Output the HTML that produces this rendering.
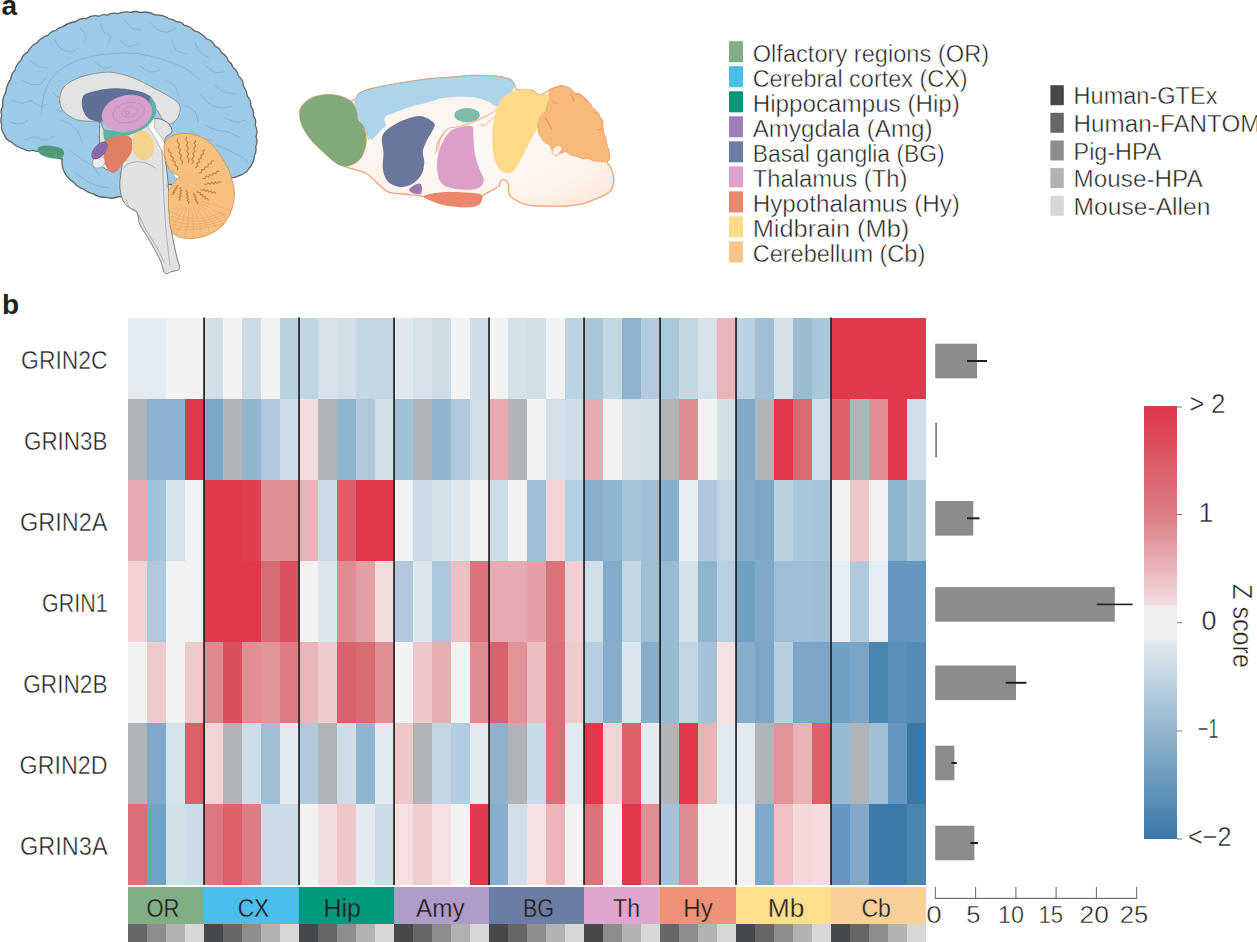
<!DOCTYPE html><html><head><meta charset="utf-8"><style>html,body{margin:0;padding:0;background:#fff;width:1257px;height:942px;overflow:hidden}svg{display:block}text{font-family:"Liberation Sans",sans-serif;fill:#231f20;stroke:#fff;stroke-width:0.45px}</style></head><body>
<svg width="1257" height="942" viewBox="0 0 1257 942">
<rect width="1257" height="942" fill="#fff"/>
<g shape-rendering="crispEdges">
<rect x="128" y="318" width="19" height="81" fill="#e3eaf0"/>
<rect x="147" y="318" width="19" height="81" fill="#e3eaf0"/>
<rect x="166" y="318" width="19" height="81" fill="#f2f2f2"/>
<rect x="185" y="318" width="19" height="81" fill="#f2f2f2"/>
<rect x="204" y="318" width="19" height="81" fill="#d1dfe8"/>
<rect x="223" y="318" width="19" height="81" fill="#f2f2f2"/>
<rect x="242" y="318" width="19" height="81" fill="#ccdce6"/>
<rect x="261" y="318" width="19" height="81" fill="#f2f2f2"/>
<rect x="280" y="318" width="19" height="81" fill="#b9d0de"/>
<rect x="299" y="318" width="19" height="81" fill="#c0d5e2"/>
<rect x="318" y="318" width="19" height="81" fill="#d5e2ea"/>
<rect x="337" y="318" width="19" height="81" fill="#cfdee7"/>
<rect x="356" y="318" width="19" height="81" fill="#c4d8e3"/>
<rect x="375" y="318" width="19" height="81" fill="#c4d8e3"/>
<rect x="394" y="318" width="19" height="81" fill="#dfe8ef"/>
<rect x="413" y="318" width="19" height="81" fill="#d5e2ea"/>
<rect x="432" y="318" width="19" height="81" fill="#ccdde6"/>
<rect x="451" y="318" width="19" height="81" fill="#f2f2f2"/>
<rect x="470" y="318" width="19" height="81" fill="#cedde7"/>
<rect x="489" y="318" width="19" height="81" fill="#f2f2f2"/>
<rect x="508" y="318" width="19" height="81" fill="#d3e1ea"/>
<rect x="527" y="318" width="19" height="81" fill="#cfdfe8"/>
<rect x="546" y="318" width="19" height="81" fill="#f2f2f2"/>
<rect x="565" y="318" width="19" height="81" fill="#bcd3e1"/>
<rect x="584" y="318" width="19" height="81" fill="#aac7da"/>
<rect x="603" y="318" width="19" height="81" fill="#c4d8e3"/>
<rect x="622" y="318" width="19" height="81" fill="#8eb3ce"/>
<rect x="641" y="318" width="19" height="81" fill="#b2cadd"/>
<rect x="660" y="318" width="19" height="81" fill="#abc8da"/>
<rect x="679" y="318" width="19" height="81" fill="#c4d8e3"/>
<rect x="698" y="318" width="19" height="81" fill="#d5e2ea"/>
<rect x="717" y="318" width="19" height="81" fill="#eab5b9"/>
<rect x="736" y="318" width="19" height="81" fill="#b9d1e0"/>
<rect x="755" y="318" width="19" height="81" fill="#9dbed5"/>
<rect x="774" y="318" width="19" height="81" fill="#d3e0e9"/>
<rect x="793" y="318" width="19" height="81" fill="#9abcd3"/>
<rect x="812" y="318" width="19" height="81" fill="#aac7da"/>
<rect x="831" y="318" width="19" height="81" fill="#e0394b"/>
<rect x="850" y="318" width="19" height="81" fill="#e0394b"/>
<rect x="869" y="318" width="19" height="81" fill="#e0394b"/>
<rect x="888" y="318" width="19" height="81" fill="#e0394b"/>
<rect x="907" y="318" width="19" height="81" fill="#e0394b"/>
<rect x="128" y="399" width="19" height="81" fill="#b1b4b7"/>
<rect x="147" y="399" width="19" height="81" fill="#8ab1cf"/>
<rect x="166" y="399" width="19" height="81" fill="#8ab1cf"/>
<rect x="185" y="399" width="19" height="81" fill="#e0394b"/>
<rect x="204" y="399" width="19" height="81" fill="#7aa6c8"/>
<rect x="223" y="399" width="19" height="81" fill="#b1b4b7"/>
<rect x="242" y="399" width="19" height="81" fill="#90b5d0"/>
<rect x="261" y="399" width="19" height="81" fill="#b0c8dc"/>
<rect x="280" y="399" width="19" height="81" fill="#cddde7"/>
<rect x="299" y="399" width="19" height="81" fill="#f2dcdc"/>
<rect x="318" y="399" width="19" height="81" fill="#b1b4b7"/>
<rect x="337" y="399" width="19" height="81" fill="#8fb4cf"/>
<rect x="356" y="399" width="19" height="81" fill="#b0c8dc"/>
<rect x="375" y="399" width="19" height="81" fill="#cfdfe8"/>
<rect x="394" y="399" width="19" height="81" fill="#a0c2d7"/>
<rect x="413" y="399" width="19" height="81" fill="#b1b4b7"/>
<rect x="432" y="399" width="19" height="81" fill="#92b5cf"/>
<rect x="451" y="399" width="19" height="81" fill="#b0c8dc"/>
<rect x="470" y="399" width="19" height="81" fill="#cfdfe8"/>
<rect x="489" y="399" width="19" height="81" fill="#e6aab0"/>
<rect x="508" y="399" width="19" height="81" fill="#b1b4b7"/>
<rect x="527" y="399" width="19" height="81" fill="#f2f2f2"/>
<rect x="546" y="399" width="19" height="81" fill="#d3e0e9"/>
<rect x="565" y="399" width="19" height="81" fill="#cddde7"/>
<rect x="584" y="399" width="19" height="81" fill="#e6aab0"/>
<rect x="603" y="399" width="19" height="81" fill="#f2f2f2"/>
<rect x="622" y="399" width="19" height="81" fill="#d3e0e9"/>
<rect x="641" y="399" width="19" height="81" fill="#d0dfe8"/>
<rect x="660" y="399" width="19" height="81" fill="#b1b4b7"/>
<rect x="679" y="399" width="19" height="81" fill="#e08c95"/>
<rect x="698" y="399" width="19" height="81" fill="#f2f2f2"/>
<rect x="717" y="399" width="19" height="81" fill="#d0dfe8"/>
<rect x="736" y="399" width="19" height="81" fill="#7fa8c9"/>
<rect x="755" y="399" width="19" height="81" fill="#b1b4b7"/>
<rect x="774" y="399" width="19" height="81" fill="#e0394b"/>
<rect x="793" y="399" width="19" height="81" fill="#dc6a72"/>
<rect x="812" y="399" width="19" height="81" fill="#cfdfe8"/>
<rect x="831" y="399" width="19" height="81" fill="#dc5f69"/>
<rect x="850" y="399" width="19" height="81" fill="#b1b4b7"/>
<rect x="869" y="399" width="19" height="81" fill="#e08e96"/>
<rect x="888" y="399" width="19" height="81" fill="#e0394b"/>
<rect x="907" y="399" width="19" height="81" fill="#cfdfe8"/>
<rect x="128" y="480" width="19" height="81" fill="#e6aab0"/>
<rect x="147" y="480" width="19" height="81" fill="#a3c4d8"/>
<rect x="166" y="480" width="19" height="81" fill="#d4e2ea"/>
<rect x="185" y="480" width="19" height="81" fill="#f2f2f2"/>
<rect x="204" y="480" width="19" height="81" fill="#e0394b"/>
<rect x="223" y="480" width="19" height="81" fill="#e0394b"/>
<rect x="242" y="480" width="19" height="81" fill="#de3f4f"/>
<rect x="261" y="480" width="19" height="81" fill="#e08e96"/>
<rect x="280" y="480" width="19" height="81" fill="#e08e96"/>
<rect x="299" y="480" width="19" height="81" fill="#e8b4b7"/>
<rect x="318" y="480" width="19" height="81" fill="#cbdce6"/>
<rect x="337" y="480" width="19" height="81" fill="#dd5d67"/>
<rect x="356" y="480" width="19" height="81" fill="#e0394b"/>
<rect x="375" y="480" width="19" height="81" fill="#e0394b"/>
<rect x="394" y="480" width="19" height="81" fill="#f2f2f2"/>
<rect x="413" y="480" width="19" height="81" fill="#cbdce6"/>
<rect x="432" y="480" width="19" height="81" fill="#d3e1ea"/>
<rect x="451" y="480" width="19" height="81" fill="#dfe8ef"/>
<rect x="470" y="480" width="19" height="81" fill="#f2f2f2"/>
<rect x="489" y="480" width="19" height="81" fill="#cddde7"/>
<rect x="508" y="480" width="19" height="81" fill="#f2f2f2"/>
<rect x="527" y="480" width="19" height="81" fill="#a1c1d6"/>
<rect x="546" y="480" width="19" height="81" fill="#f2d4d6"/>
<rect x="565" y="480" width="19" height="81" fill="#b3cfe1"/>
<rect x="584" y="480" width="19" height="81" fill="#88afcb"/>
<rect x="603" y="480" width="19" height="81" fill="#8fb4cf"/>
<rect x="622" y="480" width="19" height="81" fill="#a7c5d9"/>
<rect x="641" y="480" width="19" height="81" fill="#9dbed5"/>
<rect x="660" y="480" width="19" height="81" fill="#87aecb"/>
<rect x="679" y="480" width="19" height="81" fill="#e5ecf3"/>
<rect x="698" y="480" width="19" height="81" fill="#aec7dc"/>
<rect x="717" y="480" width="19" height="81" fill="#c2d6e2"/>
<rect x="736" y="480" width="19" height="81" fill="#84abca"/>
<rect x="755" y="480" width="19" height="81" fill="#7da7c8"/>
<rect x="774" y="480" width="19" height="81" fill="#bad2e0"/>
<rect x="793" y="480" width="19" height="81" fill="#a9c6da"/>
<rect x="812" y="480" width="19" height="81" fill="#a7c5d9"/>
<rect x="831" y="480" width="19" height="81" fill="#f2f2f2"/>
<rect x="850" y="480" width="19" height="81" fill="#efc7cb"/>
<rect x="869" y="480" width="19" height="81" fill="#f2f2f2"/>
<rect x="888" y="480" width="19" height="81" fill="#8eb3ce"/>
<rect x="907" y="480" width="19" height="81" fill="#a7c5d9"/>
<rect x="128" y="561" width="19" height="81" fill="#f2d2d4"/>
<rect x="147" y="561" width="19" height="81" fill="#b0c8dc"/>
<rect x="166" y="561" width="19" height="81" fill="#f2f2f2"/>
<rect x="185" y="561" width="19" height="81" fill="#f2f2f2"/>
<rect x="204" y="561" width="19" height="81" fill="#e0394b"/>
<rect x="223" y="561" width="19" height="81" fill="#e0394b"/>
<rect x="242" y="561" width="19" height="81" fill="#e0394b"/>
<rect x="261" y="561" width="19" height="81" fill="#d96b72"/>
<rect x="280" y="561" width="19" height="81" fill="#dd5060"/>
<rect x="299" y="561" width="19" height="81" fill="#f2f2f2"/>
<rect x="318" y="561" width="19" height="81" fill="#dbe7ee"/>
<rect x="337" y="561" width="19" height="81" fill="#e08c95"/>
<rect x="356" y="561" width="19" height="81" fill="#e3a0a4"/>
<rect x="375" y="561" width="19" height="81" fill="#f2dcdc"/>
<rect x="394" y="561" width="19" height="81" fill="#b2c9dd"/>
<rect x="413" y="561" width="19" height="81" fill="#dbe7ee"/>
<rect x="432" y="561" width="19" height="81" fill="#abc8da"/>
<rect x="451" y="561" width="19" height="81" fill="#ecbfc1"/>
<rect x="470" y="561" width="19" height="81" fill="#dc737b"/>
<rect x="489" y="561" width="19" height="81" fill="#e6aab0"/>
<rect x="508" y="561" width="19" height="81" fill="#e6aab0"/>
<rect x="527" y="561" width="19" height="81" fill="#e3a0a4"/>
<rect x="546" y="561" width="19" height="81" fill="#dc737b"/>
<rect x="565" y="561" width="19" height="81" fill="#efcfd2"/>
<rect x="584" y="561" width="19" height="81" fill="#cfdfe8"/>
<rect x="603" y="561" width="19" height="81" fill="#83abca"/>
<rect x="622" y="561" width="19" height="81" fill="#c2d6e2"/>
<rect x="641" y="561" width="19" height="81" fill="#9fbfd5"/>
<rect x="660" y="561" width="19" height="81" fill="#98bad3"/>
<rect x="679" y="561" width="19" height="81" fill="#d3e1ea"/>
<rect x="698" y="561" width="19" height="81" fill="#8fb4cf"/>
<rect x="717" y="561" width="19" height="81" fill="#b8d0df"/>
<rect x="736" y="561" width="19" height="81" fill="#70a0c4"/>
<rect x="755" y="561" width="19" height="81" fill="#80a9c9"/>
<rect x="774" y="561" width="19" height="81" fill="#9fbfd5"/>
<rect x="793" y="561" width="19" height="81" fill="#9fbfd5"/>
<rect x="812" y="561" width="19" height="81" fill="#9cbdd4"/>
<rect x="831" y="561" width="19" height="81" fill="#e5ecf3"/>
<rect x="850" y="561" width="19" height="81" fill="#b1c9dd"/>
<rect x="869" y="561" width="19" height="81" fill="#e5ecf3"/>
<rect x="888" y="561" width="19" height="81" fill="#6596bf"/>
<rect x="907" y="561" width="19" height="81" fill="#6596bf"/>
<rect x="128" y="642" width="19" height="81" fill="#f2f2f2"/>
<rect x="147" y="642" width="19" height="81" fill="#efcacc"/>
<rect x="166" y="642" width="19" height="81" fill="#f2f2f2"/>
<rect x="185" y="642" width="19" height="81" fill="#efcacc"/>
<rect x="204" y="642" width="19" height="81" fill="#de8890"/>
<rect x="223" y="642" width="19" height="81" fill="#dc505c"/>
<rect x="242" y="642" width="19" height="81" fill="#e08e96"/>
<rect x="261" y="642" width="19" height="81" fill="#e0949a"/>
<rect x="280" y="642" width="19" height="81" fill="#dd7c84"/>
<rect x="299" y="642" width="19" height="81" fill="#eab5b9"/>
<rect x="318" y="642" width="19" height="81" fill="#efcace"/>
<rect x="337" y="642" width="19" height="81" fill="#da626c"/>
<rect x="356" y="642" width="19" height="81" fill="#d96b72"/>
<rect x="375" y="642" width="19" height="81" fill="#e08e96"/>
<rect x="394" y="642" width="19" height="81" fill="#f2f2f2"/>
<rect x="413" y="642" width="19" height="81" fill="#efc7cb"/>
<rect x="432" y="642" width="19" height="81" fill="#e6aeb1"/>
<rect x="451" y="642" width="19" height="81" fill="#f2f2f2"/>
<rect x="470" y="642" width="19" height="81" fill="#e08c95"/>
<rect x="489" y="642" width="19" height="81" fill="#da626c"/>
<rect x="508" y="642" width="19" height="81" fill="#e0949a"/>
<rect x="527" y="642" width="19" height="81" fill="#ebbfc2"/>
<rect x="546" y="642" width="19" height="81" fill="#da6d75"/>
<rect x="565" y="642" width="19" height="81" fill="#efcaca"/>
<rect x="584" y="642" width="19" height="81" fill="#b6cfe0"/>
<rect x="603" y="642" width="19" height="81" fill="#86adcb"/>
<rect x="622" y="642" width="19" height="81" fill="#dae6ee"/>
<rect x="641" y="642" width="19" height="81" fill="#86adcb"/>
<rect x="660" y="642" width="19" height="81" fill="#97b9d2"/>
<rect x="679" y="642" width="19" height="81" fill="#c2d6e2"/>
<rect x="698" y="642" width="19" height="81" fill="#a5c2d8"/>
<rect x="717" y="642" width="19" height="81" fill="#f6e2e3"/>
<rect x="736" y="642" width="19" height="81" fill="#87aecb"/>
<rect x="755" y="642" width="19" height="81" fill="#7ba6c8"/>
<rect x="774" y="642" width="19" height="81" fill="#b8cfdf"/>
<rect x="793" y="642" width="19" height="81" fill="#7ba6c8"/>
<rect x="812" y="642" width="19" height="81" fill="#7ba6c8"/>
<rect x="831" y="642" width="19" height="81" fill="#70a0c4"/>
<rect x="850" y="642" width="19" height="81" fill="#79a4c6"/>
<rect x="869" y="642" width="19" height="81" fill="#4a84b0"/>
<rect x="888" y="642" width="19" height="81" fill="#5b8fb9"/>
<rect x="907" y="642" width="19" height="81" fill="#578bb5"/>
<rect x="128" y="723" width="19" height="81" fill="#b1b4b7"/>
<rect x="147" y="723" width="19" height="81" fill="#80a9c9"/>
<rect x="166" y="723" width="19" height="81" fill="#d4e2ea"/>
<rect x="185" y="723" width="19" height="81" fill="#dc5f69"/>
<rect x="204" y="723" width="19" height="81" fill="#f3d4d6"/>
<rect x="223" y="723" width="19" height="81" fill="#b1b4b7"/>
<rect x="242" y="723" width="19" height="81" fill="#cddde7"/>
<rect x="261" y="723" width="19" height="81" fill="#9dbed5"/>
<rect x="280" y="723" width="19" height="81" fill="#e2eaf0"/>
<rect x="299" y="723" width="19" height="81" fill="#b0c9dc"/>
<rect x="318" y="723" width="19" height="81" fill="#b1b4b7"/>
<rect x="337" y="723" width="19" height="81" fill="#cddde7"/>
<rect x="356" y="723" width="19" height="81" fill="#90b5d0"/>
<rect x="375" y="723" width="19" height="81" fill="#e2eaf0"/>
<rect x="394" y="723" width="19" height="81" fill="#efc7c9"/>
<rect x="413" y="723" width="19" height="81" fill="#b1b4b7"/>
<rect x="432" y="723" width="19" height="81" fill="#c2d6e2"/>
<rect x="451" y="723" width="19" height="81" fill="#b2cddf"/>
<rect x="470" y="723" width="19" height="81" fill="#e2eaf0"/>
<rect x="489" y="723" width="19" height="81" fill="#8bb1ce"/>
<rect x="508" y="723" width="19" height="81" fill="#b1b4b7"/>
<rect x="527" y="723" width="19" height="81" fill="#c8dae5"/>
<rect x="546" y="723" width="19" height="81" fill="#da6d75"/>
<rect x="565" y="723" width="19" height="81" fill="#e2eaf0"/>
<rect x="584" y="723" width="19" height="81" fill="#e0394b"/>
<rect x="603" y="723" width="19" height="81" fill="#f3d4d6"/>
<rect x="622" y="723" width="19" height="81" fill="#dc5f69"/>
<rect x="641" y="723" width="19" height="81" fill="#e2eaf0"/>
<rect x="660" y="723" width="19" height="81" fill="#b1b4b7"/>
<rect x="679" y="723" width="19" height="81" fill="#e0394b"/>
<rect x="698" y="723" width="19" height="81" fill="#e9b3b6"/>
<rect x="717" y="723" width="19" height="81" fill="#e2eaf0"/>
<rect x="736" y="723" width="19" height="81" fill="#e2eaf0"/>
<rect x="755" y="723" width="19" height="81" fill="#b1b4b7"/>
<rect x="774" y="723" width="19" height="81" fill="#e0949a"/>
<rect x="793" y="723" width="19" height="81" fill="#e9b3b6"/>
<rect x="812" y="723" width="19" height="81" fill="#dc5f69"/>
<rect x="831" y="723" width="19" height="81" fill="#97b9d2"/>
<rect x="850" y="723" width="19" height="81" fill="#b1b4b7"/>
<rect x="869" y="723" width="19" height="81" fill="#9fc0d5"/>
<rect x="888" y="723" width="19" height="81" fill="#6596bf"/>
<rect x="907" y="723" width="19" height="81" fill="#3a78a8"/>
<rect x="128" y="804" width="19" height="81" fill="#dc6e78"/>
<rect x="147" y="804" width="19" height="81" fill="#70a2c4"/>
<rect x="166" y="804" width="19" height="81" fill="#d1dfe8"/>
<rect x="185" y="804" width="19" height="81" fill="#cbdce6"/>
<rect x="204" y="804" width="19" height="81" fill="#dc7880"/>
<rect x="223" y="804" width="19" height="81" fill="#dc5f69"/>
<rect x="242" y="804" width="19" height="81" fill="#dd7c84"/>
<rect x="261" y="804" width="19" height="81" fill="#cbdce6"/>
<rect x="280" y="804" width="19" height="81" fill="#cbdce6"/>
<rect x="299" y="804" width="19" height="81" fill="#f2f2f2"/>
<rect x="318" y="804" width="19" height="81" fill="#f3dcdd"/>
<rect x="337" y="804" width="19" height="81" fill="#efc7c8"/>
<rect x="356" y="804" width="19" height="81" fill="#e2eaf0"/>
<rect x="375" y="804" width="19" height="81" fill="#cbdce6"/>
<rect x="394" y="804" width="19" height="81" fill="#f6e0e1"/>
<rect x="413" y="804" width="19" height="81" fill="#f0cdce"/>
<rect x="432" y="804" width="19" height="81" fill="#f6e0e1"/>
<rect x="451" y="804" width="19" height="81" fill="#f2f2f2"/>
<rect x="470" y="804" width="19" height="81" fill="#e0394b"/>
<rect x="489" y="804" width="19" height="81" fill="#86adcb"/>
<rect x="508" y="804" width="19" height="81" fill="#d1dfe8"/>
<rect x="527" y="804" width="19" height="81" fill="#f6e0e1"/>
<rect x="546" y="804" width="19" height="81" fill="#ebb5b9"/>
<rect x="565" y="804" width="19" height="81" fill="#f2f2f2"/>
<rect x="584" y="804" width="19" height="81" fill="#da727a"/>
<rect x="603" y="804" width="19" height="81" fill="#f2f2f2"/>
<rect x="622" y="804" width="19" height="81" fill="#e0394b"/>
<rect x="641" y="804" width="19" height="81" fill="#e08e96"/>
<rect x="660" y="804" width="19" height="81" fill="#a5c3d8"/>
<rect x="679" y="804" width="19" height="81" fill="#e08c95"/>
<rect x="698" y="804" width="19" height="81" fill="#f2f2f2"/>
<rect x="717" y="804" width="19" height="81" fill="#f2f2f2"/>
<rect x="736" y="804" width="19" height="81" fill="#f2f2f2"/>
<rect x="755" y="804" width="19" height="81" fill="#80a9c9"/>
<rect x="774" y="804" width="19" height="81" fill="#efc3c5"/>
<rect x="793" y="804" width="19" height="81" fill="#f3d9da"/>
<rect x="812" y="804" width="19" height="81" fill="#f4dcdd"/>
<rect x="831" y="804" width="19" height="81" fill="#6596bf"/>
<rect x="850" y="804" width="19" height="81" fill="#7fa8c9"/>
<rect x="869" y="804" width="19" height="81" fill="#3e7aa9"/>
<rect x="888" y="804" width="19" height="81" fill="#3e7aa9"/>
<rect x="907" y="804" width="19" height="81" fill="#4a84b0"/>
</g>
<rect x="203.2" y="317.5" width="1.7" height="567.5" fill="#231f20"/>
<rect x="298.2" y="317.5" width="1.7" height="567.5" fill="#231f20"/>
<rect x="393.2" y="317.5" width="1.7" height="567.5" fill="#231f20"/>
<rect x="488.2" y="317.5" width="1.7" height="567.5" fill="#231f20"/>
<rect x="583.2" y="317.5" width="1.7" height="567.5" fill="#231f20"/>
<rect x="659.2" y="317.5" width="1.7" height="567.5" fill="#231f20"/>
<rect x="735.2" y="317.5" width="1.7" height="567.5" fill="#231f20"/>
<rect x="830.2" y="317.5" width="1.7" height="567.5" fill="#231f20"/>
<rect x="128" y="887" width="76" height="37" fill="#80ae85"/>
<rect x="128" y="924" width="19" height="18" fill="#656667"/>
<rect x="147" y="924" width="19" height="18" fill="#8c8d8e"/>
<rect x="166" y="924" width="19" height="18" fill="#b2b2b2"/>
<rect x="185" y="924" width="19" height="18" fill="#d7d7d7"/>
<text x="163" y="917" font-size="25" text-anchor="middle" style="stroke:#80ae85;stroke-width:0.3px" textLength="33" lengthAdjust="spacingAndGlyphs">OR</text>
<rect x="204" y="887" width="95" height="37" fill="#4cbeec"/>
<rect x="204" y="924" width="19" height="18" fill="#45494b"/>
<rect x="223" y="924" width="19" height="18" fill="#656667"/>
<rect x="242" y="924" width="19" height="18" fill="#8c8d8e"/>
<rect x="261" y="924" width="19" height="18" fill="#b2b2b2"/>
<rect x="280" y="924" width="19" height="18" fill="#d7d7d7"/>
<text x="253.4" y="917" font-size="25" text-anchor="middle" style="stroke:#4cbeec;stroke-width:0.3px" textLength="31.5" lengthAdjust="spacingAndGlyphs">CX</text>
<rect x="299" y="887" width="95" height="37" fill="#009b7d"/>
<rect x="299" y="924" width="19" height="18" fill="#45494b"/>
<rect x="318" y="924" width="19" height="18" fill="#656667"/>
<rect x="337" y="924" width="19" height="18" fill="#8c8d8e"/>
<rect x="356" y="924" width="19" height="18" fill="#b2b2b2"/>
<rect x="375" y="924" width="19" height="18" fill="#d7d7d7"/>
<text x="342.2" y="917" font-size="25" text-anchor="middle" style="stroke:#009b7d;stroke-width:0.3px" textLength="37.5" lengthAdjust="spacingAndGlyphs">Hip</text>
<rect x="394" y="887" width="95" height="37" fill="#b09cc8"/>
<rect x="394" y="924" width="19" height="18" fill="#45494b"/>
<rect x="413" y="924" width="19" height="18" fill="#656667"/>
<rect x="432" y="924" width="19" height="18" fill="#8c8d8e"/>
<rect x="451" y="924" width="19" height="18" fill="#b2b2b2"/>
<rect x="470" y="924" width="19" height="18" fill="#d7d7d7"/>
<text x="440.3" y="917" font-size="25" text-anchor="middle" style="stroke:#b09cc8;stroke-width:0.3px" textLength="48.5" lengthAdjust="spacingAndGlyphs">Amy</text>
<rect x="489" y="887" width="95" height="37" fill="#6b7ca5"/>
<rect x="489" y="924" width="19" height="18" fill="#45494b"/>
<rect x="508" y="924" width="19" height="18" fill="#656667"/>
<rect x="527" y="924" width="19" height="18" fill="#8c8d8e"/>
<rect x="546" y="924" width="19" height="18" fill="#b2b2b2"/>
<rect x="565" y="924" width="19" height="18" fill="#d7d7d7"/>
<text x="538.4" y="917" font-size="25" text-anchor="middle" style="stroke:#6b7ca5;stroke-width:0.3px" textLength="31" lengthAdjust="spacingAndGlyphs">BG</text>
<rect x="584" y="887" width="76" height="37" fill="#dfa5cf"/>
<rect x="584" y="924" width="19" height="18" fill="#45494b"/>
<rect x="603" y="924" width="19" height="18" fill="#8c8d8e"/>
<rect x="622" y="924" width="19" height="18" fill="#b2b2b2"/>
<rect x="641" y="924" width="19" height="18" fill="#d7d7d7"/>
<text x="626.6" y="917" font-size="25" text-anchor="middle" style="stroke:#dfa5cf;stroke-width:0.3px" textLength="27" lengthAdjust="spacingAndGlyphs">Th</text>
<rect x="660" y="887" width="76" height="37" fill="#ed9279"/>
<rect x="660" y="924" width="19" height="18" fill="#656667"/>
<rect x="679" y="924" width="19" height="18" fill="#8c8d8e"/>
<rect x="698" y="924" width="19" height="18" fill="#b2b2b2"/>
<rect x="717" y="924" width="19" height="18" fill="#d7d7d7"/>
<text x="698" y="917" font-size="25" text-anchor="middle" style="stroke:#ed9279;stroke-width:0.3px" textLength="29.5" lengthAdjust="spacingAndGlyphs">Hy</text>
<rect x="736" y="887" width="95" height="37" fill="#fedf8e"/>
<rect x="736" y="924" width="19" height="18" fill="#45494b"/>
<rect x="755" y="924" width="19" height="18" fill="#656667"/>
<rect x="774" y="924" width="19" height="18" fill="#8c8d8e"/>
<rect x="793" y="924" width="19" height="18" fill="#b2b2b2"/>
<rect x="812" y="924" width="19" height="18" fill="#d7d7d7"/>
<text x="786" y="917" font-size="25" text-anchor="middle" style="stroke:#fedf8e;stroke-width:0.3px" textLength="36.5" lengthAdjust="spacingAndGlyphs">Mb</text>
<rect x="831" y="887" width="95" height="37" fill="#fad09a"/>
<rect x="831" y="924" width="19" height="18" fill="#45494b"/>
<rect x="850" y="924" width="19" height="18" fill="#656667"/>
<rect x="869" y="924" width="19" height="18" fill="#8c8d8e"/>
<rect x="888" y="924" width="19" height="18" fill="#b2b2b2"/>
<rect x="907" y="924" width="19" height="18" fill="#d7d7d7"/>
<text x="876.2" y="917" font-size="25" text-anchor="middle" style="stroke:#fad09a;stroke-width:0.3px" textLength="29.5" lengthAdjust="spacingAndGlyphs">Cb</text>
<text x="107.6" y="368.5" font-size="25.5" text-anchor="end" textLength="86.5" lengthAdjust="spacingAndGlyphs">GRIN2C</text>
<text x="107.6" y="449.5" font-size="25.5" text-anchor="end" textLength="83.7" lengthAdjust="spacingAndGlyphs">GRIN3B</text>
<text x="107.6" y="530.5" font-size="25.5" text-anchor="end" textLength="87.7" lengthAdjust="spacingAndGlyphs">GRIN2A</text>
<text x="107.6" y="611.5" font-size="25.5" text-anchor="end" textLength="65.6" lengthAdjust="spacingAndGlyphs">GRIN1</text>
<text x="107.6" y="692.5" font-size="25.5" text-anchor="end" textLength="84.4" lengthAdjust="spacingAndGlyphs">GRIN2B</text>
<text x="107.6" y="773.5" font-size="25.5" text-anchor="end" textLength="88.1" lengthAdjust="spacingAndGlyphs">GRIN2D</text>
<text x="107.6" y="854.5" font-size="25.5" text-anchor="end" textLength="87.6" lengthAdjust="spacingAndGlyphs">GRIN3A</text>
<rect x="935.2" y="343.7" width="41.8" height="34.6" fill="#8c8c8c"/>
<rect x="967" y="360.0" width="20.0" height="2" fill="#231f20"/>
<rect x="935.2" y="422.7" width="1.8" height="34.6" fill="#7f7f7f"/>
<rect x="935.2" y="501.0" width="38.1" height="34.6" fill="#8c8c8c"/>
<rect x="967" y="517.3" width="12.5" height="2" fill="#231f20"/>
<rect x="935.2" y="587.1" width="179.6" height="34.6" fill="#8c8c8c"/>
<rect x="1096.6" y="603.6" width="36.0" height="1.6" fill="#231f20"/>
<rect x="935.2" y="665.5" width="80.8" height="34.6" fill="#8c8c8c"/>
<rect x="1005.7" y="681.8" width="20.7" height="2" fill="#231f20"/>
<rect x="935.2" y="745.7" width="19.2" height="34.6" fill="#8c8c8c"/>
<rect x="951.5" y="762.0" width="5.3" height="2" fill="#231f20"/>
<rect x="935.2" y="825.7" width="39.2" height="34.6" fill="#8c8c8c"/>
<rect x="970.4" y="842.0" width="7.7" height="2" fill="#231f20"/>
<rect x="935" y="897.8" width="202" height="1" fill="#555"/>
<rect x="934.8" y="887" width="1" height="11.5" fill="#666"/>
<text x="934.1" y="923.3" font-size="24" text-anchor="middle" textLength="15.5" lengthAdjust="spacingAndGlyphs">0</text>
<rect x="975.1" y="887" width="1" height="11.5" fill="#666"/>
<text x="973.3" y="923.3" font-size="24" text-anchor="middle" textLength="14.3" lengthAdjust="spacingAndGlyphs">5</text>
<rect x="1015.4" y="887" width="1" height="11.5" fill="#666"/>
<text x="1011" y="923.3" font-size="24" text-anchor="middle" textLength="26" lengthAdjust="spacingAndGlyphs">10</text>
<rect x="1055.6" y="887" width="1" height="11.5" fill="#666"/>
<text x="1050.8" y="923.3" font-size="24" text-anchor="middle" textLength="24.6" lengthAdjust="spacingAndGlyphs">15</text>
<rect x="1095.9" y="887" width="1" height="11.5" fill="#666"/>
<text x="1094.2" y="923.3" font-size="24" text-anchor="middle" textLength="29.4" lengthAdjust="spacingAndGlyphs">20</text>
<rect x="1136.2" y="887" width="1" height="11.5" fill="#666"/>
<text x="1133.9" y="923.3" font-size="24" text-anchor="middle" textLength="28.5" lengthAdjust="spacingAndGlyphs">25</text>
<defs><linearGradient id="cb" x1="0" y1="0" x2="0" y2="1"><stop offset="0" stop-color="#dd364a"/><stop offset="0.25" stop-color="#db7c84"/><stop offset="0.46" stop-color="#f3dcde"/><stop offset="0.462" stop-color="#f0f0f0"/><stop offset="0.54" stop-color="#f0f0f0"/><stop offset="0.542" stop-color="#e3eaf0"/><stop offset="0.75" stop-color="#92b5ce"/><stop offset="1" stop-color="#3a78a8"/></linearGradient></defs>
<rect x="1144" y="406" width="33" height="433" fill="url(#cb)"/>
<rect x="1177" y="406.5" width="5" height="1" fill="#777"/>
<rect x="1177" y="514.0" width="5" height="1" fill="#777"/>
<rect x="1177" y="622.2" width="5" height="1" fill="#777"/>
<rect x="1177" y="730.5" width="5" height="1" fill="#777"/>
<rect x="1177" y="838.5" width="5" height="1" fill="#777"/>
<text x="1189.5" y="413" font-size="27" textLength="36" lengthAdjust="spacingAndGlyphs">&gt; 2</text>
<text x="1198.5" y="521.5" font-size="27">1</text>
<text x="1201.5" y="629.8" font-size="27" textLength="15" lengthAdjust="spacingAndGlyphs">0</text>
<text x="1198" y="738.2" font-size="27" textLength="20.5" lengthAdjust="spacingAndGlyphs">&#8722;1</text>
<text x="1188" y="846" font-size="27" textLength="43.5" lengthAdjust="spacingAndGlyphs">&lt;&#8722;2</text>
<text transform="translate(1232.6,584) rotate(90)" x="0" y="0" font-size="27" textLength="84" lengthAdjust="spacingAndGlyphs">Z score</text>
<text x="1.5" y="14.6" font-size="28" font-weight="bold" style="stroke:none">a</text>
<text x="2" y="313.9" font-size="28" font-weight="bold" style="stroke:none">b</text>
<rect x="729" y="41.2" width="14" height="21" fill="#80ae85"/>
<text x="752.7" y="62.2" font-size="23" textLength="236.4" lengthAdjust="spacingAndGlyphs">Olfactory regions (OR)</text>
<rect x="729" y="66.2" width="14" height="21" fill="#4cbeec"/>
<text x="752.7" y="87.2" font-size="23" textLength="215" lengthAdjust="spacingAndGlyphs">Cerebral cortex (CX)</text>
<rect x="729" y="91.3" width="14" height="21" fill="#009677"/>
<text x="752.7" y="112.3" font-size="23" textLength="207.2" lengthAdjust="spacingAndGlyphs">Hippocampus (Hip)</text>
<rect x="729" y="116.3" width="14" height="21" fill="#9b7fb6"/>
<text x="752.7" y="137.3" font-size="23" textLength="179.8" lengthAdjust="spacingAndGlyphs">Amygdala (Amg)</text>
<rect x="729" y="141.3" width="14" height="21" fill="#6b7ca5"/>
<text x="752.7" y="162.3" font-size="23" textLength="192" lengthAdjust="spacingAndGlyphs">Basal ganglia (BG)</text>
<rect x="729" y="166.4" width="14" height="21" fill="#dca2cc"/>
<text x="752.7" y="187.4" font-size="23" textLength="154.8" lengthAdjust="spacingAndGlyphs">Thalamus (Th)</text>
<rect x="729" y="191.4" width="14" height="21" fill="#e9876f"/>
<text x="752.7" y="212.4" font-size="23" textLength="207.2" lengthAdjust="spacingAndGlyphs">Hypothalamus (Hy)</text>
<rect x="729" y="216.4" width="14" height="21" fill="#fddb8a"/>
<text x="752.7" y="237.4" font-size="23" textLength="156.6" lengthAdjust="spacingAndGlyphs">Midbrain (Mb)</text>
<rect x="729" y="241.4" width="14" height="21" fill="#fbc48a"/>
<text x="752.7" y="262.4" font-size="23" textLength="172.6" lengthAdjust="spacingAndGlyphs">Cerebellum (Cb)</text>
<rect x="1050.4" y="85.2" width="13.4" height="20" fill="#45494b"/>
<text x="1073.6" y="104.4" font-size="23.5" textLength="143.8" lengthAdjust="spacingAndGlyphs">Human-GTEx</text>
<rect x="1050.4" y="112.8" width="13.4" height="20" fill="#656667"/>
<text x="1073.6" y="132.0" font-size="23.5" textLength="187" lengthAdjust="spacingAndGlyphs">Human-FANTOM</text>
<rect x="1050.4" y="140.5" width="13.4" height="20" fill="#8c8d8e"/>
<text x="1073.6" y="159.7" font-size="23.5" textLength="87.8" lengthAdjust="spacingAndGlyphs">Pig-HPA</text>
<rect x="1050.4" y="168.1" width="13.4" height="20" fill="#b2b2b2"/>
<text x="1073.6" y="187.3" font-size="23.5" textLength="129" lengthAdjust="spacingAndGlyphs">Mouse-HPA</text>
<rect x="1050.4" y="195.8" width="13.4" height="20" fill="#d7d7d7"/>
<text x="1073.6" y="215.0" font-size="23.5" textLength="136.8" lengthAdjust="spacingAndGlyphs">Mouse-Allen</text>
<g id="human" stroke-linejoin="round" stroke-linecap="round">
<path d="M1.7,115.5 Q-0.0,110.5 2.8,106.1 Q1.8,98.6 5.9,92.2 Q6.3,85.1 10.7,79.5 Q11.0,74.0 15.0,70.3 Q16.1,64.0 21.2,60.2 Q22.4,54.3 27.9,51.8 Q30.7,45.7 36.8,43.0 Q41.3,37.3 48.2,35.2 Q50.7,31.4 55.2,30.7 Q58.4,27.5 62.8,26.6 Q68.7,22.5 75.9,21.5 Q80.3,17.5 86.2,18.5 Q92.1,14.3 99.2,16.2 Q102.8,13.9 107.0,15.1 Q112.1,12.2 117.8,13.6 Q124.2,11.1 130.9,12.4 Q135.7,10.5 140.4,12.6 Q148.1,10.7 154.8,14.9 Q162.6,14.2 168.9,18.8 Q173.3,18.6 176.4,21.7 Q181.1,21.5 183.9,25.2 Q189.9,26.2 194.1,30.7 Q201.6,32.8 206.5,38.9 Q212.4,40.1 214.6,45.8 Q219.6,47.7 221.5,52.7 Q226.6,55.3 228.4,60.9 Q232.0,63.3 233.1,67.5 Q237.7,70.7 238.5,76.2 Q243.5,79.7 243.2,85.7 Q246.8,90.5 247.5,96.4 Q251.5,100.3 250.7,105.9 Q254.5,110.1 253.3,115.6 Q256.9,119.9 255.2,125.3 Q258.3,130.8 256.0,136.7 Q258.3,141.7 255.7,146.5 Q256.9,151.1 254.5,155.1 Q254.2,162.5 249.3,168.0 Q246.4,173.3 240.7,175.2 Q234.9,178.2 228.3,178.1 Q224.5,181.8 219.3,180.8 Q212.9,184.9 205.4,184.2 Q198.1,186.6 190.5,185.3 Q185.4,187.2 180.4,184.8 Q175.2,186.8 170.1,184.4 Q163.2,187.2 156.0,185.7 Q150.1,189.5 143.2,189.2 Q136.9,193.8 129.0,193.8 Q124.5,197.7 118.5,196.7 Q112.1,199.5 105.4,197.2 Q98.8,197.7 93.5,193.9 Q88.0,192.9 83.8,189.2 Q77.6,187.4 73.6,182.4 Q67.7,178.6 64.5,172.4 Q61.0,166.1 62.4,159.0 Q56.0,158.6 52.5,153.1 Q46.2,154.5 41.2,150.4 Q37.0,152.4 33.0,150.2 Q27.7,152.0 23.2,148.8 Q16.4,147.2 11.6,142.1 Q5.9,140.2 4.2,134.5 Q0.8,130.6 1.7,125.5 Q0.2,120.5 1.7,115.5Z" fill="#9dcbe7" stroke="#5f6466" stroke-width="1.3"/>
<g fill="none" stroke="#7eaac6" stroke-width="0.7">
<path d="M41.0,115.0 C41.5,111.7 42.2,101.2 44.0,95.0 C45.8,88.8 48.3,82.8 52.0,78.0 C55.7,73.2 60.5,69.3 66.0,66.0 C71.5,62.7 78.0,60.0 85.0,58.0 C92.0,56.0 100.5,54.8 108.0,54.0 C115.5,53.2 123.0,52.7 130.0,53.0 C137.0,53.3 143.3,54.5 150.0,56.0 C156.7,57.5 163.7,59.7 170.0,62.0 C176.3,64.3 183.0,67.0 188.0,70.0 C193.0,73.0 198.0,78.3 200.0,80.0"/>
<path d="M30.0,60.0 C31.3,61.0 35.0,64.7 38.0,66.0 C41.0,67.3 46.3,67.7 48.0,68.0"/>
<path d="M22.0,80.0 C23.3,80.7 27.0,83.3 30.0,84.0 C33.0,84.7 37.3,85.0 40.0,84.0 C42.7,83.0 45.0,79.0 46.0,78.0"/>
<path d="M12.0,100.0 C13.7,100.5 18.7,103.0 22.0,103.0 C25.3,103.0 30.3,100.5 32.0,100.0"/>
<path d="M10.0,122.0 C11.7,122.3 17.0,124.3 20.0,124.0 C23.0,123.7 26.7,120.7 28.0,120.0"/>
<path d="M25.0,140.0 C26.7,139.5 31.7,137.0 35.0,137.0 C38.3,137.0 41.7,140.2 45.0,140.0 C48.3,139.8 53.3,136.7 55.0,136.0"/>
<path d="M55.0,40.0 C55.8,41.3 57.5,46.0 60.0,48.0 C62.5,50.0 67.0,52.0 70.0,52.0 C73.0,52.0 76.7,48.7 78.0,48.0"/>
<path d="M80.0,28.0 C81.0,29.3 85.3,33.3 86.0,36.0 C86.7,38.7 84.3,42.7 84.0,44.0"/>
<path d="M100.0,22.0 C100.7,23.7 102.3,29.7 104.0,32.0 C105.7,34.3 109.3,34.0 110.0,36.0 C110.7,38.0 108.3,42.7 108.0,44.0"/>
<path d="M125.0,20.0 C126.2,21.3 129.2,26.3 132.0,28.0 C134.8,29.7 140.3,29.7 142.0,30.0"/>
<path d="M150.0,22.0 C151.3,23.3 155.0,28.3 158.0,30.0 C161.0,31.7 165.0,32.3 168.0,32.0 C171.0,31.7 174.7,28.7 176.0,28.0"/>
<path d="M172.0,40.0 C172.7,41.7 173.7,47.7 176.0,50.0 C178.3,52.3 184.3,53.3 186.0,54.0"/>
<path d="M195.0,42.0 C195.8,43.7 197.5,49.3 200.0,52.0 C202.5,54.7 208.3,57.0 210.0,58.0"/>
<path d="M205.0,65.0 C206.5,66.2 210.8,70.8 214.0,72.0 C217.2,73.2 222.3,72.0 224.0,72.0"/>
<path d="M215.0,85.0 C216.5,86.2 220.5,90.5 224.0,92.0 C227.5,93.5 234.0,93.7 236.0,94.0"/>
<path d="M200.0,95.0 C201.7,96.5 206.3,101.8 210.0,104.0 C213.7,106.2 218.3,107.7 222.0,108.0 C225.7,108.3 230.3,106.3 232.0,106.0"/>
<path d="M225.0,118.0 C226.8,118.7 232.5,121.7 236.0,122.0 C239.5,122.3 244.3,120.3 246.0,120.0"/>
<path d="M185.0,105.0 C186.7,106.2 192.8,109.2 195.0,112.0 C197.2,114.8 197.5,120.3 198.0,122.0"/>
<path d="M205.0,125.0 C206.8,125.8 212.2,128.8 216.0,130.0 C219.8,131.2 224.0,130.7 228.0,132.0 C232.0,133.3 238.0,137.0 240.0,138.0"/>
<path d="M215.0,145.0 C217.2,145.8 223.8,148.2 228.0,150.0 C232.2,151.8 236.7,154.0 240.0,156.0 C243.3,158.0 246.7,161.0 248.0,162.0"/>
<path d="M190.0,130.0 C191.7,131.3 196.3,136.3 200.0,138.0 C203.7,139.7 210.0,139.7 212.0,140.0"/>
<path d="M60.0,120.0 C61.7,120.7 67.0,122.0 70.0,124.0 C73.0,126.0 76.0,129.0 78.0,132.0 C80.0,135.0 81.3,140.3 82.0,142.0"/>
<path d="M70.0,150.0 C71.7,151.3 76.3,155.3 80.0,158.0 C83.7,160.7 88.7,163.0 92.0,166.0 C95.3,169.0 98.7,174.3 100.0,176.0"/>
<path d="M75.0,172.0 C76.7,173.3 81.2,177.7 85.0,180.0 C88.8,182.3 93.8,184.7 98.0,186.0 C102.2,187.3 108.0,187.7 110.0,188.0"/>
<path d="M30.0,100.0 C31.7,101.0 37.0,105.3 40.0,106.0 C43.0,106.7 46.7,104.3 48.0,104.0"/>
<path d="M52.0,92.0 C53.3,93.0 57.0,97.3 60.0,98.0 C63.0,98.7 68.3,96.3 70.0,96.0"/>
<path d="M56.0,110.0 C57.7,110.3 63.0,112.3 66.0,112.0 C69.0,111.7 72.7,108.7 74.0,108.0"/>
<path d="M120.0,40.0 C121.3,41.0 125.0,45.3 128.0,46.0 C131.0,46.7 136.3,44.3 138.0,44.0"/>
<path d="M140.0,66.0 C141.7,67.0 146.7,71.3 150.0,72.0 C153.3,72.7 158.3,70.3 160.0,70.0"/>
<path d="M95.0,62.0 C96.5,63.0 101.2,67.3 104.0,68.0 C106.8,68.7 110.7,66.3 112.0,66.0"/>
<path d="M165.0,80.0 C166.7,81.0 172.8,83.3 175.0,86.0 C177.2,88.7 177.5,94.3 178.0,96.0"/>
</g>
<path d="M59.7,101.6 C59.4,98.1 60.3,93.3 62.0,90.0 C63.7,86.7 66.3,84.3 70.0,82.0 C73.7,79.7 79.0,77.5 84.0,76.0 C89.0,74.5 95.0,73.4 100.0,72.8 C105.0,72.2 108.5,71.8 114.0,72.6 C119.5,73.4 126.3,75.2 133.0,77.8 C139.7,80.4 147.8,85.0 154.0,88.2 C160.2,91.4 166.2,94.4 170.4,97.2 C174.7,100.0 178.1,101.8 179.5,104.8 C180.9,107.8 179.9,112.1 179.0,115.0 C178.1,117.9 175.7,120.5 174.0,122.0 C172.3,123.5 170.7,124.3 168.9,124.0 C167.1,123.7 165.0,122.3 163.0,120.0 C161.0,117.7 159.5,113.0 157.0,110.0 C154.5,107.0 152.5,104.3 148.0,102.0 C143.5,99.7 136.3,97.3 130.0,96.0 C123.7,94.7 115.8,94.0 110.0,94.0 C104.2,94.0 99.0,94.7 95.0,96.0 C91.0,97.3 87.5,99.3 86.0,102.0 C84.5,104.7 84.7,109.3 86.0,112.0 C87.3,114.7 91.7,116.4 94.0,118.0 C96.3,119.6 99.9,120.9 99.8,121.5 C99.7,122.1 97.4,121.7 93.5,121.4 C89.6,121.1 81.5,121.4 76.5,119.7 C71.5,118.0 66.5,114.2 63.7,111.2 C60.9,108.2 60.0,105.1 59.7,101.6Z" fill="#e3e3e3" stroke="#7a7a7a" stroke-width="0.7"/>
<path d="M99.8,122.0 C100.5,117.0 102.0,128.0 104.0,130.0 C106.0,132.0 107.7,134.0 112.0,134.0 C116.3,134.0 123.7,132.3 130.0,130.0 C136.3,127.7 145.0,121.8 150.0,120.0 C155.0,118.2 156.8,118.3 160.0,119.0 C163.2,119.7 166.9,121.8 168.9,124.0 C170.9,126.2 172.5,129.8 172.0,132.0 C171.5,134.2 167.3,134.8 166.0,137.0 C164.7,139.2 164.2,141.5 164.0,145.0 C163.8,148.5 164.5,153.5 165.0,158.0 C165.5,162.5 166.4,166.7 167.0,172.0 C167.6,177.3 168.2,183.7 168.5,190.0 C168.8,196.3 168.6,203.7 169.0,210.0 C169.4,216.3 170.2,222.3 171.0,228.0 C171.8,233.7 173.0,239.0 174.0,244.0 C175.0,249.0 176.1,253.9 177.0,258.0 C177.9,262.1 180.2,266.4 179.4,268.7 C178.6,270.9 174.4,270.8 172.0,271.5 C169.6,272.2 166.8,274.8 165.0,273.2 C163.2,271.6 162.7,265.9 161.0,262.0 C159.3,258.1 157.3,254.3 155.0,250.0 C152.7,245.7 149.5,240.2 147.0,236.0 C144.5,231.8 141.5,228.3 140.0,225.0 C138.5,221.7 138.6,218.3 137.9,216.0 C137.2,213.7 137.8,212.7 136.0,211.0 C134.2,209.3 129.3,208.2 127.0,206.0 C124.7,203.8 123.2,201.3 122.0,198.0 C120.8,194.7 120.0,190.3 119.8,186.0 C119.6,181.7 120.7,175.7 121.0,172.0 C121.3,168.3 123.1,164.3 121.6,164.0 C120.1,163.7 114.9,169.3 112.0,170.0 C109.1,170.7 106.0,169.7 104.0,168.0 C102.0,166.3 100.7,167.7 100.0,160.0 C99.3,152.3 99.1,127.0 99.8,122.0Z" fill="#e2e2e2" stroke="#6f6f6f" stroke-width="0.9"/>
<path d="M148.0,122.0 C148.5,120.3 150.8,118.2 152.0,118.0 C153.2,117.8 154.7,119.5 155.0,121.0 C155.3,122.5 153.5,125.0 154.0,127.0 C154.5,129.0 156.5,130.8 158.0,133.0 C159.5,135.2 161.3,136.8 163.0,140.0 C164.7,143.2 166.5,147.8 168.0,152.0 C169.5,156.2 170.7,161.7 172.0,165.0 C173.3,168.3 174.8,170.1 176.0,172.0 C177.2,173.9 179.4,175.7 179.4,176.7 C179.4,177.7 177.2,178.8 176.0,178.0 C174.8,177.2 173.7,175.0 172.0,172.0 C170.3,169.0 168.0,164.2 166.0,160.0 C164.0,155.8 162.0,151.0 160.0,147.0 C158.0,143.0 155.8,139.2 154.0,136.0 C152.2,132.8 150.0,130.3 149.0,128.0 C148.0,125.7 147.5,123.7 148.0,122.0Z" fill="#ffffff" stroke="#888" stroke-width="0.5"/>
<g fill="none" stroke="#8a8a8a" stroke-width="0.6">
<path d="M124.0,168.0 C124.7,167.3 126.0,165.0 128.0,164.0 C130.0,163.0 133.0,162.2 136.0,162.0 C139.0,161.8 142.8,162.0 146.0,163.0 C149.2,164.0 153.5,167.2 155.0,168.0"/>
<path d="M126.0,200.0 C126.7,201.3 128.0,205.7 130.0,208.0 C132.0,210.3 135.3,210.3 138.0,214.0 C140.7,217.7 143.0,224.7 146.0,230.0 C149.0,235.3 153.0,240.7 156.0,246.0 C159.0,251.3 162.7,259.3 164.0,262.0"/>
<path d="M162.0,150.0 C162.2,154.2 162.7,166.7 163.0,175.0 C163.3,183.3 163.5,190.8 164.0,200.0 C164.5,209.2 165.0,219.0 166.0,230.0 C167.0,241.0 169.3,260.0 170.0,266.0"/>
<path d="M166.0,185.0 C167.0,186.2 170.0,190.2 172.0,192.0 C174.0,193.8 177.0,195.3 178.0,196.0"/>
</g>
<path d="M81.8,101.7 C82.0,99.2 82.4,96.6 84.0,95.0 C85.6,93.4 87.9,93.1 91.4,92.1 C94.9,91.1 100.2,89.6 105.0,89.0 C109.8,88.4 114.5,88.2 120.0,88.5 C125.5,88.8 133.0,89.8 138.0,91.0 C143.0,92.2 147.6,94.2 150.0,96.0 C152.4,97.8 152.9,99.7 152.6,102.0 C152.3,104.3 151.8,107.7 148.0,110.0 C144.2,112.3 136.3,114.3 130.0,116.0 C123.7,117.7 115.2,119.0 110.0,120.0 C104.8,121.0 102.7,122.0 99.0,121.7 C95.3,121.4 90.7,120.0 88.0,118.0 C85.3,116.0 84.0,112.7 83.0,110.0 C82.0,107.3 81.6,104.2 81.8,101.7Z" fill="#5f6f97"/>
<path d="M150.0,97.0 C151.0,96.5 154.0,100.5 155.0,103.0 C156.0,105.5 156.5,109.0 156.0,112.0 C155.5,115.0 153.8,118.3 152.0,121.0 C150.2,123.7 147.8,126.0 145.0,128.0 C142.2,130.0 138.5,131.5 135.0,133.0 C131.5,134.5 127.2,135.5 124.0,137.0 C120.8,138.5 118.3,140.2 116.0,142.0 C113.7,143.8 111.8,147.7 110.0,147.5 C108.2,147.3 106.1,143.9 105.0,141.0 C103.9,138.1 102.7,131.8 103.5,130.0 C104.3,128.2 106.6,130.0 110.0,130.0 C113.4,130.0 119.7,130.8 124.0,130.0 C128.3,129.2 132.3,127.3 136.0,125.0 C139.7,122.7 143.8,119.2 146.0,116.0 C148.2,112.8 148.3,109.2 149.0,106.0 C149.7,102.8 149.0,97.5 150.0,97.0Z" fill="#5db3a0"/>
<ellipse cx="127" cy="113.5" rx="25.5" ry="18.3" transform="rotate(-13 127 113.5)" fill="#d5a0cb"/>
<g fill="none" stroke="#b584ab" stroke-width="0.5"><ellipse cx="129" cy="113" rx="16" ry="10" transform="rotate(-13 127 113.5)"/><ellipse cx="130" cy="112.5" rx="8" ry="5" transform="rotate(-13 127 113.5)"/><circle cx="127" cy="112.5" r="2"/></g>
<path d="M104.0,142.0 C105.3,138.7 109.0,139.1 112.0,138.0 C115.0,136.9 119.3,135.8 122.0,135.5 C124.7,135.2 126.3,135.2 128.0,136.0 C129.7,136.8 131.3,137.7 132.0,140.0 C132.7,142.3 132.7,147.0 132.0,150.0 C131.3,153.0 129.7,155.5 128.0,158.0 C126.3,160.5 123.8,162.8 122.0,165.0 C120.2,167.2 118.7,169.7 117.0,171.0 C115.3,172.3 113.7,173.5 112.0,173.0 C110.3,172.5 108.3,170.5 107.0,168.0 C105.7,165.5 104.5,162.3 104.0,158.0 C103.5,153.7 102.7,145.3 104.0,142.0Z" fill="#df7f66"/>
<path d="M93.0,160.0 C93.7,158.3 96.2,157.3 98.0,157.0 C99.8,156.7 102.9,156.8 104.0,158.0 C105.1,159.2 105.2,162.4 104.5,164.0 C103.8,165.6 101.8,167.0 100.0,167.5 C98.2,168.0 95.2,168.2 94.0,167.0 C92.8,165.8 92.3,161.7 93.0,160.0Z" fill="#eeeeee" stroke="#7f7f7f" stroke-width="0.5"/>
<ellipse cx="99.5" cy="150.5" rx="5.3" ry="10.3" transform="rotate(40 99.5 150.5)" fill="#8b6dae" stroke="#6a5190" stroke-width="0.7"/>
<ellipse cx="100" cy="150" rx="2.5" ry="7" transform="rotate(40 99.5 150.5)" fill="none" stroke="#6a5190" stroke-width="0.5"/>
<ellipse cx="143" cy="145.5" rx="10.8" ry="15" transform="rotate(-10 143 145.5)" fill="#f3d48a"/>
<path d="M38.0,148.0 C38.8,146.6 42.2,145.8 45.0,145.5 C47.8,145.2 52.2,145.9 55.0,146.5 C57.8,147.1 60.5,147.8 62.0,149.0 C63.5,150.2 64.3,152.4 64.0,154.0 C63.7,155.6 62.3,157.8 60.0,158.5 C57.7,159.2 53.3,158.8 50.0,158.0 C46.7,157.2 42.0,155.7 40.0,154.0 C38.0,152.3 37.2,149.4 38.0,148.0Z" fill="#4e9a79"/>
<clipPath id="cbclip"><path d="M164.6,143.0 C165.8,139.3 168.8,137.6 172.0,136.0 C175.2,134.4 179.9,133.7 183.7,133.5 C187.5,133.3 191.4,134.1 195.0,135.0 C198.6,135.9 201.8,137.0 205.0,139.0 C208.2,141.0 211.2,143.8 214.0,147.0 C216.8,150.2 219.7,154.5 222.0,158.0 C224.3,161.5 226.3,164.3 228.0,168.0 C229.7,171.7 230.9,176.0 232.0,180.0 C233.1,184.0 234.2,187.8 234.4,192.0 C234.6,196.2 233.9,201.0 233.0,205.0 C232.1,209.0 230.8,212.5 229.0,216.0 C227.2,219.5 224.8,223.2 222.0,226.0 C219.2,228.8 215.7,231.1 212.0,233.0 C208.3,234.9 204.0,236.6 200.0,237.5 C196.0,238.4 191.5,238.6 188.0,238.5 C184.5,238.4 181.5,237.9 179.0,237.0 C176.5,236.1 174.5,235.0 173.0,233.0 C171.5,231.0 170.7,228.5 170.0,225.0 C169.3,221.5 169.2,216.2 169.0,212.0 C168.8,207.8 168.5,203.7 168.5,200.0 C168.5,196.3 167.8,193.3 169.0,190.0 C170.2,186.7 174.3,182.2 176.0,180.0 C177.7,177.8 180.1,178.0 179.4,176.7 C178.7,175.4 173.8,173.4 172.0,172.0 C170.2,170.6 169.7,170.3 168.5,168.0 C167.3,165.7 165.7,162.2 165.0,158.0 C164.3,153.8 163.4,146.7 164.6,143.0Z"/></clipPath>
<path d="M164.6,143.0 C165.8,139.3 168.8,137.6 172.0,136.0 C175.2,134.4 179.9,133.7 183.7,133.5 C187.5,133.3 191.4,134.1 195.0,135.0 C198.6,135.9 201.8,137.0 205.0,139.0 C208.2,141.0 211.2,143.8 214.0,147.0 C216.8,150.2 219.7,154.5 222.0,158.0 C224.3,161.5 226.3,164.3 228.0,168.0 C229.7,171.7 230.9,176.0 232.0,180.0 C233.1,184.0 234.2,187.8 234.4,192.0 C234.6,196.2 233.9,201.0 233.0,205.0 C232.1,209.0 230.8,212.5 229.0,216.0 C227.2,219.5 224.8,223.2 222.0,226.0 C219.2,228.8 215.7,231.1 212.0,233.0 C208.3,234.9 204.0,236.6 200.0,237.5 C196.0,238.4 191.5,238.6 188.0,238.5 C184.5,238.4 181.5,237.9 179.0,237.0 C176.5,236.1 174.5,235.0 173.0,233.0 C171.5,231.0 170.7,228.5 170.0,225.0 C169.3,221.5 169.2,216.2 169.0,212.0 C168.8,207.8 168.5,203.7 168.5,200.0 C168.5,196.3 167.8,193.3 169.0,190.0 C170.2,186.7 174.3,182.2 176.0,180.0 C177.7,177.8 180.1,178.0 179.4,176.7 C178.7,175.4 173.8,173.4 172.0,172.0 C170.2,170.6 169.7,170.3 168.5,168.0 C167.3,165.7 165.7,162.2 165.0,158.0 C164.3,153.8 163.4,146.7 164.6,143.0Z" fill="#f8c07f"/>
<g clip-path="url(#cbclip)">
<g fill="none" stroke="#d9a46c" stroke-width="0.5">
<path d="M201.3,201.4 Q221.2,206.9 233.2,211.7"/>
<path d="M200.3,203.2 Q218.7,211.4 229.4,218.6"/>
<path d="M198.9,204.7 Q215.3,215.4 224.2,224.8"/>
<path d="M197.2,206.0 Q211.1,218.8 217.7,229.9"/>
<path d="M195.3,207.0 Q206.2,221.4 210.2,234.0"/>
<path d="M193.1,207.7 Q200.8,223.1 201.9,236.6"/>
<path d="M190.8,208.0 Q195.1,223.9 193.2,237.9"/>
<path d="M188.5,207.9 Q189.3,223.8 184.4,237.7"/>
<path d="M186.3,207.5 Q183.7,222.7 175.8,236.0"/>
<path d="M184.2,206.7 Q178.5,220.7 167.7,233.0"/>
<path d="M182.3,205.7 Q173.7,217.9 160.4,228.6"/>
<path d="M180.7,204.3 Q169.7,214.4 154.3,223.2"/>
<path d="M172,212 C185,220 205,222 226,210"/>
<path d="M172,216 C185,223 205,224 226,213"/>
<path d="M172,220 C185,226 205,226 226,216"/>
<path d="M172,224 C185,229 205,228 226,219"/>
<path d="M172,228 C185,232 205,230 226,222"/>
</g>
<g fill="none" stroke="#c68645" stroke-width="1.2">
<polyline points="168.5,148.8 168.7,151.5 171.3,153.0 170.7,156.1 173.4,157.6 172.7,160.7 175.4,162.2 174.8,165.3 177.4,166.8 177.6,169.5"/>
<polyline points="177.6,138.9 177.2,141.8 179.5,144.3 178.2,147.4 180.4,149.9 179.2,153.0 181.4,155.5 180.1,158.6 182.4,161.1 182.0,164.0"/>
<polyline points="186.6,137.0 185.9,139.9 187.9,142.6 186.3,145.5 188.3,148.2 186.7,151.1 188.7,153.8 187.1,156.7 189.1,159.4 188.4,162.3"/>
<polyline points="195.6,140.7 194.3,143.2 195.7,146.0 193.5,148.3 194.9,151.2 192.7,153.5 194.1,156.4 191.9,158.7 193.3,161.5 192.0,164.0"/>
<polyline points="204.6,149.7 202.8,151.3 203.4,154.1 200.8,155.3 201.4,158.1 198.8,159.3 199.4,162.1 196.8,163.3 197.4,166.1 195.6,167.7"/>
<polyline points="213.6,160.5 211.4,161.2 211.0,164.0 208.2,164.0 207.8,166.8 205.0,166.8 204.6,169.6 201.8,169.6 201.4,172.4 199.2,173.1"/>
<polyline points="219.0,171.3 216.8,171.3 215.8,173.7 213.2,172.9 212.2,175.3 209.6,174.5 208.6,176.9 206.0,176.1 205.0,178.5 202.8,178.5"/>
<polyline points="220.9,182.2 219.0,181.5 217.4,183.5 215.4,181.9 213.8,183.9 211.7,182.3 210.1,184.3 208.1,182.7 206.5,184.7 204.6,184.0"/>
<polyline points="215.4,193.0 214.0,191.7 212.0,193.1 210.8,190.9 208.8,192.3 207.6,190.1 205.6,191.5 204.4,189.3 202.4,190.7 201.0,189.4"/>
<polyline points="208.2,200.2 207.6,198.5 205.2,198.9 205.2,196.5 202.8,196.9 202.8,194.5 200.4,194.9 200.4,192.5 198.0,192.9 197.4,191.2"/>
<polyline points="197.4,203.8 197.9,202.3 195.7,201.7 197.1,199.9 194.9,199.3 196.3,197.5 194.1,196.9 195.5,195.1 193.3,194.5 193.8,193.0"/>
<polyline points="188.4,203.8 189.1,202.1 187.1,200.7 188.7,198.9 186.7,197.5 188.3,195.7 186.3,194.3 187.9,192.5 185.9,191.1 186.6,189.4"/>
<polyline points="179.4,200.2 180.5,198.9 178.9,197.3 180.9,196.1 179.3,194.5 181.3,193.3 179.7,191.7 181.7,190.5 180.1,188.9 181.2,187.6"/>
<polyline points="172.1,194.8 173.5,194.3 172.6,192.3 174.7,192.3 173.8,190.3 175.9,190.3 175.0,188.3 177.1,188.3 176.2,186.3 177.6,185.8"/>
</g>
<path d="M180.0,178.0 C180.7,175.7 183.3,172.7 186.0,172.0 C188.7,171.3 193.3,172.3 196.0,174.0 C198.7,175.7 201.7,179.3 202.0,182.0 C202.3,184.7 200.3,188.3 198.0,190.0 C195.7,191.7 190.7,192.7 188.0,192.0 C185.3,191.3 183.3,188.3 182.0,186.0 C180.7,183.7 179.3,180.3 180.0,178.0Z" fill="#f3b978" opacity="0.5"/>
</g>
<path d="M164.6,143.0 C165.8,139.3 168.8,137.6 172.0,136.0 C175.2,134.4 179.9,133.7 183.7,133.5 C187.5,133.3 191.4,134.1 195.0,135.0 C198.6,135.9 201.8,137.0 205.0,139.0 C208.2,141.0 211.2,143.8 214.0,147.0 C216.8,150.2 219.7,154.5 222.0,158.0 C224.3,161.5 226.3,164.3 228.0,168.0 C229.7,171.7 230.9,176.0 232.0,180.0 C233.1,184.0 234.2,187.8 234.4,192.0 C234.6,196.2 233.9,201.0 233.0,205.0 C232.1,209.0 230.8,212.5 229.0,216.0 C227.2,219.5 224.8,223.2 222.0,226.0 C219.2,228.8 215.7,231.1 212.0,233.0 C208.3,234.9 204.0,236.6 200.0,237.5 C196.0,238.4 191.5,238.6 188.0,238.5 C184.5,238.4 181.5,237.9 179.0,237.0 C176.5,236.1 174.5,235.0 173.0,233.0 C171.5,231.0 170.7,228.5 170.0,225.0 C169.3,221.5 169.2,216.2 169.0,212.0 C168.8,207.8 168.5,203.7 168.5,200.0 C168.5,196.3 167.8,193.3 169.0,190.0 C170.2,186.7 174.3,182.2 176.0,180.0 C177.7,177.8 180.1,178.0 179.4,176.7 C178.7,175.4 173.8,173.4 172.0,172.0 C170.2,170.6 169.7,170.3 168.5,168.0 C167.3,165.7 165.7,162.2 165.0,158.0 C164.3,153.8 163.4,146.7 164.6,143.0Z" fill="none" stroke="#cf9557" stroke-width="0.9"/>
</g>
</g>
<defs><radialGradient id="mb" cx="0.5" cy="0.55" r="0.6"><stop offset="0" stop-color="#fefaf7"/><stop offset="0.7" stop-color="#fdf3ec"/><stop offset="1" stop-color="#fbe9dc"/></radialGradient></defs>
<g id="mouse" stroke-linejoin="round">
<path d="M355.0,99.3 C356.6,98.0 356.9,94.9 359.7,93.1 C362.5,91.3 366.1,90.0 372.0,88.5 C377.9,87.0 386.1,85.5 395.1,83.9 C404.1,82.4 415.9,80.4 425.9,79.2 C435.9,78.0 447.3,77.5 455.0,76.9 C462.7,76.3 465.1,75.5 471.9,75.4 C478.7,75.3 489.3,75.6 495.7,76.2 C502.1,76.8 507.0,78.0 510.1,79.3 C513.2,80.6 513.0,82.4 514.1,84.1 C515.2,85.8 515.6,88.6 516.5,89.5 C517.4,90.4 517.0,89.5 519.6,89.7 C522.2,89.9 529.2,89.6 532.4,90.5 C535.6,91.4 536.7,94.7 538.8,95.0 C540.9,95.3 543.0,93.5 545.1,92.5 C547.2,91.5 548.8,90.0 551.5,88.9 C554.2,87.8 558.5,85.8 561.1,85.7 C563.8,85.6 565.5,86.8 567.4,88.1 C569.2,89.4 570.3,92.8 572.2,93.7 C574.1,94.6 576.0,92.4 578.6,93.7 C581.2,95.0 585.5,98.7 588.1,101.6 C590.8,104.5 592.1,108.0 594.5,111.2 C596.9,114.4 601.2,117.9 602.5,120.8 C603.8,123.7 602.0,125.2 602.5,128.7 C603.0,132.1 604.7,137.2 605.7,141.5 C606.8,145.8 608.5,150.8 608.8,154.2 C609.1,157.6 606.8,159.5 607.3,162.2 C607.8,164.8 611.0,166.6 612.0,170.1 C613.0,173.6 614.1,179.2 613.6,182.9 C613.1,186.6 611.7,189.8 608.8,192.4 C605.9,195.1 600.3,196.9 596.1,198.8 C591.9,200.7 588.2,202.4 583.4,203.6 C578.6,204.8 574.0,205.6 567.4,206.0 C560.8,206.4 550.1,206.1 543.5,206.0 C536.9,205.9 532.6,206.4 527.6,205.2 C522.6,204.0 516.5,200.9 513.3,198.8 C510.1,196.7 509.3,194.8 508.5,192.4 C507.7,190.0 509.3,186.6 508.5,184.5 C507.7,182.4 505.0,180.2 503.7,179.7 C502.4,179.2 501.3,180.2 500.5,181.3 C499.7,182.4 500.5,184.5 498.9,186.1 C497.3,187.7 493.6,189.2 491.0,190.8 C488.4,192.4 485.2,193.4 483.0,195.6 C480.8,197.8 480.2,202.1 478.0,204.0 C475.8,205.9 473.8,206.5 470.0,206.8 C466.2,207.1 460.0,206.5 455.0,206.0 C450.0,205.5 444.9,205.0 440.0,203.6 C435.1,202.2 429.5,199.2 425.9,197.8 C422.3,196.5 422.0,196.1 418.2,195.5 C414.4,194.9 407.9,194.6 402.8,194.0 C397.7,193.4 392.0,193.9 387.4,191.7 C382.8,189.5 378.7,184.0 375.1,180.9 C371.5,177.8 368.9,175.0 365.8,173.2 C362.7,171.4 360.2,171.3 356.6,170.1 C353.0,168.9 347.9,168.2 344.3,166.2 C340.7,164.2 338.7,162.4 335.0,158.0 C331.3,153.6 324.2,146.3 322.0,140.0 C319.8,133.7 319.8,125.7 322.0,120.0 C324.2,114.3 330.3,109.2 335.0,106.0 C339.7,102.8 346.7,102.1 350.0,101.0 C353.3,99.9 353.4,100.6 355.0,99.3Z" fill="url(#mb)" stroke="#f4a274" stroke-width="1.3"/>
<path d="M355.0,99.3 C355.8,96.7 356.9,94.9 359.7,93.1 C362.5,91.3 366.1,90.0 372.0,88.5 C377.9,87.0 386.1,85.5 395.1,83.9 C404.1,82.4 415.9,80.4 425.9,79.2 C435.9,78.0 447.3,77.5 455.0,76.9 C462.7,76.3 465.1,75.5 471.9,75.4 C478.7,75.3 489.3,75.6 495.7,76.2 C502.1,76.8 507.0,78.0 510.1,79.3 C513.2,80.6 513.7,82.2 514.1,84.1 C514.5,86.0 514.2,87.8 512.5,90.5 C510.8,93.2 506.2,97.3 503.7,100.0 C501.2,102.7 499.9,106.1 497.3,106.4 C494.7,106.7 491.2,103.0 487.8,101.6 C484.4,100.1 481.9,98.5 476.6,97.7 C471.3,96.9 462.0,96.8 455.9,96.9 C449.8,97.0 443.7,97.8 440.0,98.5 C436.3,99.2 438.5,99.4 433.6,100.8 C428.7,102.2 417.2,105.0 410.5,107.0 C403.8,109.0 397.7,111.6 393.6,113.1 C389.5,114.6 387.4,114.9 385.9,116.2 C384.3,117.5 384.3,119.3 384.3,120.8 C384.3,122.3 386.4,123.9 385.9,125.4 C385.4,126.9 383.5,127.7 381.2,130.0 C378.9,132.3 374.3,138.5 372.0,139.3 C369.7,140.1 368.9,137.0 367.4,134.7 C365.9,132.4 364.5,128.5 362.8,125.4 C361.1,122.3 358.7,119.0 357.4,116.2 C356.1,113.4 355.4,111.3 355.0,108.5 C354.6,105.7 354.2,101.9 355.0,99.3Z" fill="#acd4eb"/>
<path d="M355.0,99.3 C355.8,98.3 356.9,94.9 359.7,93.1 C362.5,91.3 366.1,90.0 372.0,88.5 C377.9,87.0 386.1,85.5 395.1,83.9 C404.1,82.4 415.9,80.4 425.9,79.2 C435.9,78.0 447.3,77.5 455.0,76.9 C462.7,76.3 465.1,75.5 471.9,75.4 C478.7,75.3 489.3,75.6 495.7,76.2 C502.1,76.8 507.0,78.0 510.1,79.3 C513.2,80.6 513.4,83.3 514.1,84.1" fill="none" stroke="#c4a58a" stroke-width="0.8"/>
<path d="M301.2,107.0 C303.0,104.3 306.3,100.6 310.4,98.5 C314.5,96.4 320.7,95.0 325.8,94.6 C330.9,94.2 336.8,94.9 341.2,96.2 C345.6,97.5 349.4,99.7 352.0,102.3 C354.6,104.9 355.6,108.8 356.6,111.6 C357.6,114.4 357.1,117.0 358.1,119.3 C359.1,121.6 361.5,122.8 362.8,125.4 C364.1,128.0 365.3,131.3 365.8,134.7 C366.3,138.0 366.6,141.7 365.8,145.5 C365.0,149.3 363.2,154.7 361.2,157.8 C359.1,160.9 356.3,162.5 353.5,163.9 C350.7,165.3 347.4,166.4 344.3,166.2 C341.2,165.9 338.6,164.8 335.0,162.4 C331.4,160.0 326.8,155.4 322.7,151.6 C318.6,147.8 313.9,143.7 310.4,139.3 C306.9,134.9 303.7,129.5 301.9,125.4 C300.1,121.3 299.7,117.8 299.6,114.7 C299.5,111.6 299.4,109.7 301.2,107.0Z" fill="#80aa7a" stroke="#c39a60" stroke-width="0.7"/>
<path d="M362.0,128.0 C362.7,128.8 364.8,131.0 366.0,133.0 C367.2,135.0 368.5,138.8 369.0,140.0" fill="none" stroke="#f4a274" stroke-width="0.9"/>
<path d="M382.8,134.7 C384.2,132.1 386.6,129.6 390.5,127.0 C394.4,124.4 400.8,121.1 405.9,119.3 C411.0,117.5 416.7,115.7 421.3,116.2 C425.9,116.7 431.6,120.4 433.6,122.4 C435.7,124.5 434.6,125.7 433.6,128.5 C432.6,131.3 429.2,135.5 427.4,139.3 C425.6,143.2 423.3,147.8 422.8,151.6 C422.3,155.4 424.6,158.6 424.3,162.4 C424.1,166.2 423.4,171.1 421.3,174.7 C419.2,178.3 415.6,181.9 412.0,184.0 C408.4,186.1 403.8,187.5 399.7,187.0 C395.6,186.5 390.2,184.0 387.4,180.9 C384.6,177.8 383.4,173.2 382.8,168.6 C382.2,164.0 383.6,157.6 383.5,153.2 C383.4,148.8 382.1,145.5 382.0,142.4 C381.9,139.3 381.4,137.3 382.8,134.7Z" fill="#6a779c"/>
<path d="M409.7,188.6 C410.7,187.3 414.7,184.7 416.6,184.0 C418.5,183.3 420.5,183.2 421.3,184.7 C422.1,186.2 422.1,191.6 421.3,193.2 C420.5,194.8 418.4,194.2 416.6,194.0 C414.8,193.8 411.6,192.6 410.5,191.7 C409.4,190.8 408.7,189.9 409.7,188.6Z" fill="#9b79ad"/>
<ellipse cx="467" cy="115.2" rx="12.7" ry="7.2" fill="#7bbcaa"/>
<path d="M464.5,114 C468,114.5 471,116 474,119" fill="none" stroke="#c4a070" stroke-width="0.8"/>
<path d="M440.0,147.8 C442.1,142.3 445.6,135.5 449.6,131.9 C453.6,128.3 460.0,127.1 463.9,126.3 C467.8,125.5 471.1,125.4 472.7,127.1 C474.3,128.8 473.0,132.2 473.4,136.7 C473.8,141.2 473.9,148.6 475.0,154.2 C476.1,159.8 478.3,165.8 479.8,170.1 C481.3,174.3 483.8,176.8 483.8,179.7 C483.8,182.6 482.6,185.9 479.8,187.6 C477.0,189.3 472.1,190.0 467.1,190.0 C462.1,190.0 454.1,189.0 449.6,187.6 C445.1,186.2 442.1,185.1 440.0,181.3 C437.9,177.5 437.0,170.6 437.0,165.0 C437.0,159.4 437.9,153.3 440.0,147.8Z" fill="#dca0c8"/>
<path d="M438.0,150.0 C438.5,148.0 439.3,141.6 441.0,138.0 C442.7,134.4 445.5,130.5 448.0,128.7 C450.5,126.9 452.7,127.9 456.0,127.1 C459.3,126.3 464.0,125.3 468.0,124.0 C472.0,122.7 475.4,121.3 479.8,119.2 C484.2,117.1 490.5,113.9 494.2,111.2 C497.9,108.5 500.8,104.5 502.1,103.2" fill="none" stroke="#f4a274" stroke-width="0.9"/>
<path d="M436.0,153.0 C436.3,151.2 436.3,145.8 438.0,142.0 C439.7,138.2 444.7,132.0 446.0,130.0" fill="none" stroke="#e88a6a" stroke-width="0.8"/>
<path d="M481.4,123.1 C481.7,123.6 481.4,126.5 483.0,126.0 C484.6,125.5 488.7,122.0 491.0,120.0 C493.3,118.0 496.0,115.0 497.0,114.0" fill="none" stroke="#f4a274" stroke-width="0.8"/>
<path d="M424.0,196.0 C425.3,194.6 433.4,193.0 440.0,192.4 C446.6,191.8 457.3,192.1 463.9,192.4 C470.5,192.7 476.8,192.9 479.8,194.0 C482.9,195.1 482.5,196.9 482.2,198.8 C481.9,200.7 481.2,203.9 478.2,205.2 C475.1,206.5 469.4,206.8 463.9,206.8 C458.4,206.8 450.3,206.0 445.0,205.0 C439.7,204.0 435.5,202.5 432.0,201.0 C428.5,199.5 422.7,197.4 424.0,196.0Z" fill="#ea876d"/>
<path d="M492.6,128.7 C493.5,120.2 496.2,109.0 498.9,103.2 C501.5,97.4 505.1,96.0 508.5,93.7 C511.9,91.5 515.6,90.1 519.6,89.7 C523.6,89.3 529.2,90.4 532.4,91.3 C535.6,92.2 536.7,94.9 538.8,95.3 C540.9,95.7 543.0,92.9 545.1,93.7 C547.2,94.5 551.8,96.0 551.5,100.0 C551.2,104.0 547.2,110.4 543.5,117.6 C539.8,124.8 533.7,134.8 529.2,143.0 C524.7,151.2 520.0,161.9 516.5,167.0 C513.0,172.1 511.4,173.1 508.5,173.3 C505.6,173.6 501.4,171.7 498.9,168.5 C496.4,165.3 494.4,160.8 493.4,154.2 C492.3,147.6 491.7,137.2 492.6,128.7Z" fill="#fed98a"/>
<path d="M538.8,122.3 Q540.0,115.1 546.2,111.2 Q546.3,104.4 550.1,98.9 Q547.8,94.2 550.2,89.5 Q557.2,86.1 564.9,86.5 Q571.6,87.7 575.4,93.5 Q582.6,95.7 587.7,101.2 Q591.1,104.0 592.6,108.3 Q598.8,110.9 600.2,117.6 Q603.7,124.5 603.2,132.2 Q607.0,138.3 606.8,145.5 Q611.2,152.4 609.1,160.4 Q604.9,163.2 600.2,161.3 Q593.6,161.9 588.0,158.4 Q582.2,160.3 577.5,156.4 Q570.6,156.2 565.7,151.3 Q560.1,154.8 553.8,152.7 Q550.5,149.3 549.9,144.6 Q544.2,143.6 541.9,138.3 Q537.8,134.1 538.4,128.3 Q537.0,125.2 538.8,122.3Z" fill="#f9b97b" stroke="#f4a274" stroke-width="1"/>
<g fill="none" stroke="#f0985e" stroke-width="1.3">
<path d="M552,101 L558,104 M545,118 C548,122 550,126 552,130 M571,93 L574,101 M594,112 L597,114 M602,129 L598,130"/>
</g>
<path d="M552.0,152.0 C552.0,150.3 554.3,146.8 556.0,146.0 C557.7,145.2 561.3,146.0 562.0,147.0 C562.7,148.0 561.0,150.5 560.0,152.0 C559.0,153.5 557.3,156.0 556.0,156.0 C554.7,156.0 552.0,153.7 552.0,152.0Z" fill="#fdf3ec" stroke="#f4a274" stroke-width="0.8"/>
</g>
</svg></body></html>
